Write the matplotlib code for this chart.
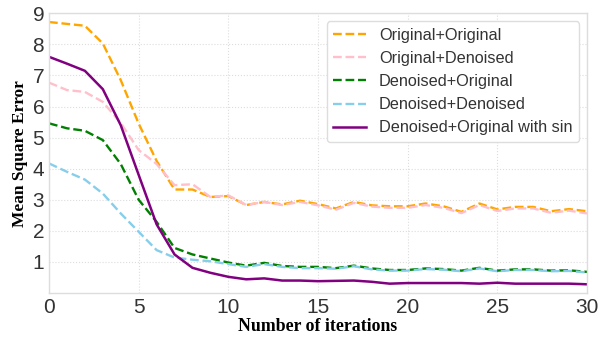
import matplotlib
matplotlib.use("Agg")
import matplotlib.pyplot as plt

iterations = list(range(31))
orig_orig = [8.72, 8.66, 8.60, 8.03, 6.85, 5.45, 4.25, 3.33, 3.33, 3.09, 3.12, 2.83, 2.93, 2.85, 2.97,
             2.86, 2.72, 2.93, 2.82, 2.79, 2.79, 2.88, 2.79, 2.61, 2.88, 2.69, 2.77, 2.77, 2.63, 2.70, 2.63]
orig_den = [6.77, 6.53, 6.47, 6.15, 5.47, 4.60, 4.15, 3.47, 3.50, 3.09, 3.14, 2.83, 2.93, 2.83, 2.93,
            2.82, 2.68, 2.90, 2.78, 2.74, 2.74, 2.83, 2.74, 2.57, 2.83, 2.64, 2.72, 2.72, 2.58, 2.65, 2.56]
den_orig = [5.46, 5.30, 5.22, 4.92, 4.15, 3.00, 2.29, 1.45, 1.24, 1.11, 0.98, 0.88, 0.97, 0.87, 0.84,
            0.84, 0.80, 0.88, 0.79, 0.74, 0.74, 0.79, 0.77, 0.72, 0.81, 0.72, 0.76, 0.76, 0.72, 0.73, 0.68]
den_den = [4.17, 3.90, 3.65, 3.20, 2.56, 1.97, 1.38, 1.14, 1.07, 1.02, 0.93, 0.84, 0.93, 0.84, 0.80,
           0.80, 0.78, 0.86, 0.76, 0.72, 0.72, 0.77, 0.75, 0.70, 0.79, 0.70, 0.74, 0.74, 0.70, 0.71, 0.66]
den_orig_sin = [7.60, 7.38, 7.15, 6.56, 5.40, 3.80, 2.21, 1.24, 0.81, 0.65, 0.52, 0.44, 0.47, 0.40, 0.40,
                0.38, 0.39, 0.40, 0.36, 0.30, 0.32, 0.32, 0.32, 0.32, 0.30, 0.33, 0.30, 0.30, 0.30, 0.30, 0.28]

labels = ["Original+Original", "Original+Denoised", "Denoised+Original",
          "Denoised+Denoised", "Denoised+Original with sin"]

fig = plt.figure(figsize=(6.11, 3.37), dpi=100)
ax = fig.add_axes([0.0802, 0.1306, 0.8805, 0.8299])

ax.plot(iterations, orig_orig, color="orange", ls="--", lw=1.7, label=labels[0])
ax.plot(iterations, orig_den, color="pink", ls="--", lw=1.7, label=labels[1])
ax.plot(iterations, den_orig, color="green", ls="--", lw=1.7, label=labels[2])
ax.plot(iterations, den_den, color="skyblue", ls="--", lw=1.7, label=labels[3])
ax.plot(iterations, den_orig_sin, color="purple", ls="-", lw=1.8, label=labels[4])

ax.set_xlim(0, 30)
ax.set_ylim(0, 9)
ax.set_xticks([0, 5, 10, 15, 20, 25, 30])
ax.set_yticks([1, 2, 3, 4, 5, 6, 7, 8, 9])
ax.tick_params(axis="both", labelsize=15, length=0, pad=3.5, colors="#333333")
for lab in ax.get_xticklabels() + ax.get_yticklabels():
    lab.set_family("Liberation Sans")

ax.grid(True, color="#dddddd", ls=":", lw=0.8)
ax.set_axisbelow(True)
for sp in ax.spines.values():
    sp.set_color("#dddddd")
    sp.set_linewidth(1.0)

ax.set_xlabel("Number of iterations", family="Liberation Serif", fontweight="bold",
              fontsize=12.8, labelpad=1)
ax.set_ylabel("Mean Square Error", family="Liberation Serif", fontweight="bold",
              fontsize=12.5, labelpad=3)

leg = ax.legend(loc="upper right", prop={"family": "Liberation Sans", "size": 11.7},
                frameon=True, fancybox=True, framealpha=1.0, edgecolor="#dddddd")
for t in leg.get_texts():
    t.set_color("#333333")

fig.savefig("out.png", dpi=100)
